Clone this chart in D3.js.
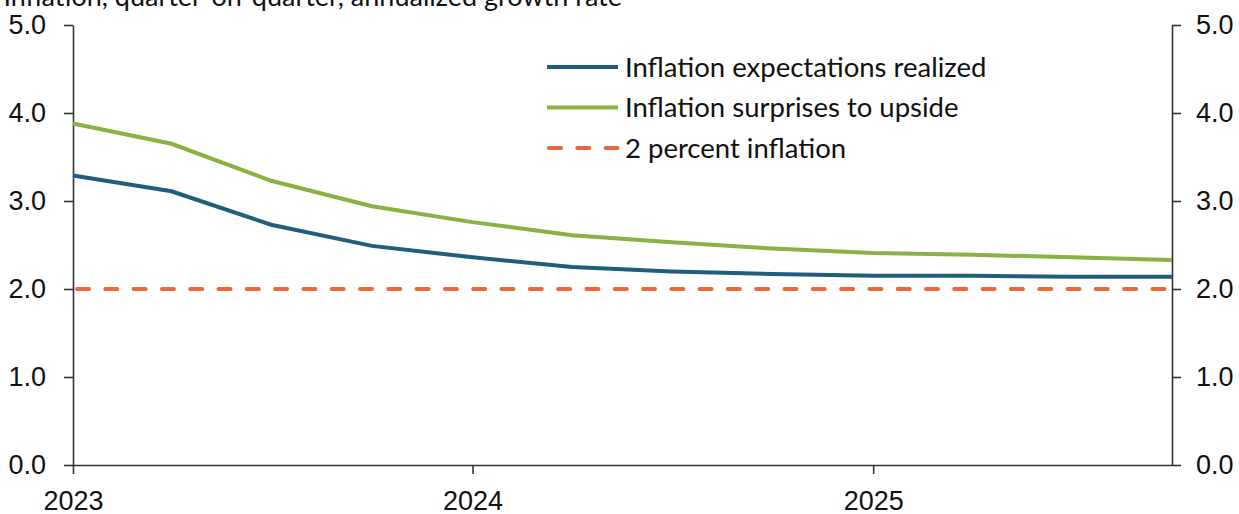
<!DOCTYPE html>
<html>
<head>
<meta charset="utf-8">
<script src="https://cdn.jsdelivr.net/npm/d3@7"></script>
<style>
  body { margin: 0; background: #fff; }
  svg { display: block; font-family: Lato, "Noto Sans", sans-serif; }
  .axis text { font-size: 27px; fill: #111; }
  .axis path, .axis line { stroke: #333; stroke-width: 1.6; }
</style>
</head>
<body>
<script>
// quarterly points, 2023Q1 .. 2025Q4
var quarters = ["2023-01-01", "2023-04-01", "2023-07-01", "2023-10-01",
                "2024-01-01", "2024-04-01", "2024-07-01", "2024-10-01",
                "2025-01-01", "2025-04-01", "2025-07-01", "2025-10-01"]
var realized = [3.29, 3.11, 2.73, 2.49, 2.36, 2.25, 2.20, 2.17, 2.15, 2.15, 2.14, 2.14]
var upside   = [3.88, 3.65, 3.23, 2.94, 2.76, 2.61, 2.53, 2.46, 2.41, 2.39, 2.36, 2.33]
var target   = [2.0, 2.0, 2.0, 2.0, 2.0, 2.0, 2.0, 2.0, 2.0, 2.0, 2.0, 2.0]
var yTicks = [0, 1, 2, 3, 4, 5]
var xTicks = ["2023-01-01", "2024-01-01", "2025-01-01"]
var seriesNames = ["Inflation expectations realized", "Inflation surprises to upside", "2 percent inflation"]
var title = "Inflation, quarter-on-quarter, annualized growth rate"

;(function() {
  var W = 1239, H = 514
  var parse = d3.timeParse("%Y-%m-%d")
  var dates = quarters.map(parse)

  var x = d3.scaleTime()
      .domain([dates[0], dates[dates.length - 1]])
      .range([73, 1172])
  var y = d3.scaleLinear()
      .domain([0, 5])
      .range([465, 25])

  var svg = d3.select("body").append("svg")
      .attr("width", W)
      .attr("height", H)

  // title (clipped at the top-left like the source)
  svg.append("text")
    .attr("x", 622)
    .attr("y", 6)
    .attr("text-anchor", "end")
    .style("font-size", "27px")
    .style("fill", "#111")
    .text(title)

  // axes
  svg.append("g").attr("class", "axis")
    .attr("transform", "translate(" + x.range()[0] + ",0)")
    .call(d3.axisLeft(y).tickValues(yTicks).tickFormat(d3.format(".1f"))
      .tickSize(9).tickSizeOuter(0).tickPadding(18))

  svg.append("g").attr("class", "axis")
    .attr("transform", "translate(" + x.range()[1] + ",0)")
    .call(d3.axisRight(y).tickValues(yTicks).tickFormat(d3.format(".1f"))
      .tickSize(9).tickSizeOuter(0).tickPadding(15))

  svg.append("g").attr("class", "axis")
    .attr("transform", "translate(0," + y(0) + ")")
    .call(d3.axisBottom(x).tickValues(xTicks.map(parse)).tickFormat(d3.timeFormat("%Y"))
      .tickSize(9).tickSizeOuter(0).tickPadding(17))

  var series = [
    { name: seriesNames[0], values: realized, color: "#215e7c", dash: null },
    { name: seriesNames[1], values: upside,   color: "#8ab142", dash: null },
    { name: seriesNames[2], values: target,   color: "#e8693d", dash: "12,16.3" }
  ]

  var line = d3.line()
      .x(function(d, i) { return x(dates[i]) })
      .y(function(d) { return y(d) })

  // draw the dashed target first so the curves sit on top
  svg.append("g").selectAll("path")
    .data(series.slice().reverse())
    .enter().append("path")
    .attr("d", function(s) { return line(s.values) })
    .style("fill", "none")
    .style("stroke", function(s) { return s.color })
    .style("stroke-width", 4)
    .style("stroke-linecap", function(s) { return s.dash ? "round" : "butt" })
    .style("stroke-dasharray", function(s) { return s.dash })
    .style("stroke-dashoffset", function(s) { return s.dash ? -4 : null })

  // legend
  var legend = svg.append("g").selectAll("g")
    .data(series)
    .enter().append("g")
    .attr("transform", function(d, i) { return "translate(547," + (67 + i * 40.5) + ")" })

  legend.append("line")
    .attr("x1", function(s) { return s.dash ? 2 : 0 })
    .attr("x2", 71)
    .style("stroke", function(s) { return s.color })
    .style("stroke-width", 4)
    .style("stroke-linecap", function(s) { return s.dash ? "round" : "butt" })
    .style("stroke-dasharray", function(s) { return s.dash })

  legend.append("text")
    .attr("x", 78)
    .attr("dy", "0.36em")
    .style("font-size", "27.5px")
    .style("fill", "#111")
    .text(function(s) { return s.name })
})()
</script>
</body>
</html>
